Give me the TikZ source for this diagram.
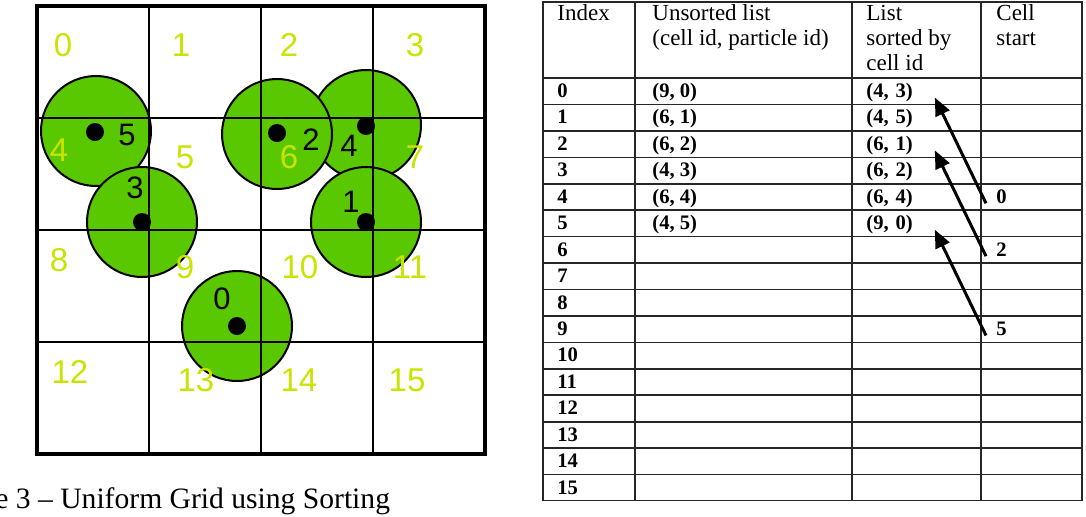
\documentclass[tikz,border=0pt]{standalone}
\usepackage{fontspec}
\setmainfont{Liberation Serif}
\newfontfamily\gridfont{Liberation Sans}
\usepackage{tikz}
\usetikzlibrary{arrows.meta}

\definecolor{ballgreen}{RGB}{90,200,0}
\definecolor{cellyellow}{RGB}{200,228,0}

\tikzset{
  frame/.style={line width=2pt},
  gridline/.style={line width=1pt},
  ball/.style={circle, draw=black, line width=1pt, fill=ballgreen, minimum size=55pt, inner sep=0pt},
  dot/.style={circle, fill=black, minimum size=9pt, inner sep=0pt},
  celllbl/.style={text=cellyellow, inner sep=0pt, font=\gridfont\fontsize{16.5}{16.5}\selectfont},
  partlbl/.style={inner sep=0pt, font=\gridfont\fontsize{15.5}{15.5}\selectfont},
  tabline/.style={line width=0.8pt, draw=black!85},
  header/.style={anchor=base west, align=left, inner sep=0pt, font=\fontsize{11.5}{12.5}\selectfont},
  entry/.style={anchor=base west, inner sep=0pt, font=\bfseries\fontsize{10.3}{10.3}\selectfont},
  sorted/.style={entry, text width=34pt, align=left},
  startlbl/.style={entry, inner xsep=5pt},
  pointer/.style={line width=1.5pt, -{Triangle[length=9pt,width=7.5pt]}},
  caption/.style={anchor=base west, inner sep=0pt, font=\fontsize{14.8}{14.8}\selectfont}
}

\begin{document}
\begin{tikzpicture}[x=0.5pt,y=-0.5pt]
\useasboundingbox (0,0) rectangle (1086,516);
%%% Draws uniform grid
% draws particles
\node[ball] (c5) at (96,131) {};
\node[ball] (c3) at (142,222) {};
\node[ball] (c4) at (366,125) {};
\node[ball] (c2) at (277,134) {};
\node[ball] (c1) at (366,222) {};
\node[ball] (c0) at (237,326) {};
% draws grid lines
\foreach \k in {1,2,3} {
  \draw[gridline] ({37+112*\k},6) -- ({37+112*\k},454);
  \draw[gridline] (37,{6+112*\k}) -- (485,{6+112*\k});
}
\draw[frame] (37,6) rectangle (485,454);
% labels cells
\node[celllbl] (g0) at (63,45) {0};
\node[celllbl] (g1) at (181,45) {1};
\node[celllbl] (g2) at (289,45) {2};
\node[celllbl] (g3) at (415,45) {3};
\node[celllbl] (g4) at (59,150) {4};
\node[celllbl] (g5) at (185,157) {5};
\node[celllbl] (g6) at (289,157) {6};
\node[celllbl] (g7) at (415,157) {7};
\node[celllbl] (g8) at (59,260) {8};
\node[celllbl] (g9) at (185,267) {9};
\node[celllbl] (g10) at (300,267) {10};
\node[celllbl] (g11) at (410,267) {11};
\node[celllbl] (g12) at (70,372) {12};
\node[celllbl] (g13) at (196,380) {13};
\node[celllbl] (g14) at (299,380) {14};
\node[celllbl] (g15) at (407,380) {15};
% draws particle centres
\node[dot] (d5) at (95,132) {};
\node[dot] (d3) at (142,222) {};
\node[dot] (d2) at (277,133) {};
\node[dot] (d4) at (366,126) {};
\node[dot] (d1) at (366,222) {};
\node[dot] (d0) at (237,326) {};
% labels particles
\node[partlbl] (p5) at (127,135) {5};
\node[partlbl] (p3) at (135,188) {3};
\node[partlbl] (p2) at (311,140) {2};
\node[partlbl] (p4) at (349,146) {4};
\node[partlbl] (p1) at (351,202) {1};
\node[partlbl] (p0) at (222,299) {0};
% caption
\node[caption] (cap) at (-5,508) {e 3 – Uniform Grid using Sorting};
%%% Draws sorting table
% draws table lines
\draw[tabline] (543,2) rectangle (1082,500.5);
\foreach \cx in {635,852,981}
  \draw[tabline] (\cx,2) -- (\cx,500.5);
\foreach \r in {0,...,15}
  \draw[tabline] (543,{78+26.44*\r}) -- (1082,{78+26.44*\r});
% header (base is the last line)
\node[header] (hidx) at (557,20) {Index};
\node[header] (hunsort) at (652,45) {Unsorted list\\(cell id, particle id)};
\node[header] (hsort) at (866,70) {List\\sorted by\\cell id};
\node[header] (hstart) at (996,45) {Cell\\start};
% fills rows
\foreach \r in {0,...,15}
  \node[entry] (idx\r) at (557,{97.5+26.44*\r}) {\r};
\foreach \u/\s [count=\r from 0] in {{(9, 0)}/{(4, 3)},{(6, 1)}/{(4, 5)},{(6, 2)}/{(6, 1)},{(4, 3)}/{(6, 2)},{(6, 4)}/{(6, 4)},{(4, 5)}/{(9, 0)}} {
  \node[entry] (uns\r) at (652,{97.5+26.44*\r}) {\u};
  \node[sorted] (srt\r) at (866,{97.5+26.44*\r}) {\s};
}
\node[startlbl] (cs4) at (986,{97.5+26.44*4}) {0};
\node[startlbl] (cs6) at (986,{97.5+26.44*6}) {2};
\node[startlbl] (cs9) at (986,{97.5+26.44*9}) {5};
% draws pointers
\draw[pointer] (cs4.base west) -- (srt0.base east);
\draw[pointer] (cs6.base west) -- (srt2.base east);
\draw[pointer] (cs9.base west) -- (srt5.base east);
\end{tikzpicture}
\end{document}
